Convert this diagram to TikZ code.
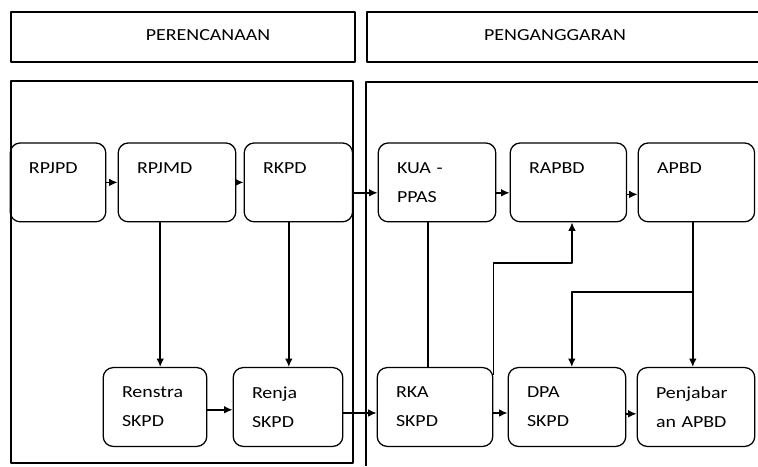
\documentclass[tikz,border=0pt]{standalone}
\usepackage{fontspec}
\setmainfont[FakeStretch=1.18]{Carlito}
\usetikzlibrary{arrows.meta}
\begin{document}
\begin{tikzpicture}[x=1cm,y=1cm,line join=round,
  panel/.style={draw=black,line width=1.7pt},
  kotak/.style={draw=black,line width=.9pt,rounded corners=.25cm,minimum height=1.97cm,
    inner xsep=.47cm,align=left,font=\fontsize{12}{20.5}\selectfont},
  judul/.style={font=\fontsize{12}{14}\selectfont},
  garis/.style={draw=black,line width=1pt},
  panah/.style={garis,-{Latex[length=2.1mm,width=1.9mm]}}]
\useasboundingbox (0,0) rectangle (18.95,11.65);
% Judul dan bingkai kedua kolom.
\draw[panel] (.275,10.1) rectangle (8.875,11.35);
\draw[panel] (18.95,11.35)--(9.175,11.35)--(9.175,10.1)--(18.95,10.1);
\draw[panel] (.275,.075) rectangle (8.825,9.625);
\draw[panel] (18.95,9.6)--(9.15,9.6)--(9.15,0);
\node[judul] (perencanaan) at (5.2,10.775){PERENCANAAN};
\node[judul] (penganggaran) at (13.875,10.775){PENGANGGARAN};
% Dokumen baris atas dan baris bawah.
\foreach \nama/\x/\lebar/\teks in {rpjpd/1.45/1.45/{RPJPD\\\mbox{}},rpjmd/4.425/2/{RPJMD\\\mbox{}},
  rkpd/7.46/1.77/{RKPD\\\mbox{}},kua/10.925/2/{KUA -\\PPAS},rapbd/14.21/1.97/{RAPBD\\\mbox{}},
  apbd/17.41/1.97/{APBD\\\mbox{}}}
 \node[kotak,text width=\lebar cm] (\nama) at (\x,7.09){\teks};
\foreach \nama/\x/\lebar/\teks in {renstra/3.875/1.65/{Renstra\\SKPD},renja/7.2/1.8/{Renja\\SKPD},
  rka/10.875/1.95/{RKA\\SKPD},dpa/14.175/2/{DPA\\SKPD},penjabar/17.4/2/{Penjabar\\an APBD}}
 \node[kotak,text width=\lebar cm] (\nama) at (\x,1.475){\teks};
% Alur antar dokumen.
\draw[panah] (rpjpd)--(rpjmd);
\draw[panah] (rpjmd)--(rkpd);
\draw[panah] ([yshift=-.26cm]rkpd.east)--([yshift=-.26cm]kua.west);
\draw[panah] ([yshift=-.26cm]kua.east)--([yshift=-.26cm]rapbd.west);
\draw[panah] ([yshift=-.3cm]rapbd.east)--([yshift=-.3cm]apbd.west);
\draw[panah] ([xshift=-.42cm]rpjmd.south)--([xshift=-.42cm]rpjmd.south |- renstra.north);
\draw[panah] ([xshift=-.24cm]rkpd.south)--([xshift=-.24cm]rkpd.south |- renja.north);
\draw[panah] ([yshift=-.07cm]renstra.east)--([yshift=-.07cm]renja.west);
\draw[panah] ([yshift=-.15cm]renja.east)--([yshift=-.15cm]rka.west);
\draw[panah] ([yshift=-.15cm]rka.east)--([yshift=-.15cm]dpa.west);
\draw[panah] ([yshift=-.17cm]dpa.east)--([yshift=-.17cm]penjabar.west);
\draw[garis] ([xshift=-.22cm]kua.south)--([xshift=-.22cm]kua.south |- rka.north);
\coordinate (belok) at (0,5.075);
\draw[panah] ([yshift=-.2cm]rka.north east) |- ([xshift=.09cm]rapbd.south |- belok)--([xshift=.09cm]rapbd.south);
\draw[panah] ([xshift=-.09cm]apbd.south)--([xshift=-.09cm]apbd.south |- penjabar.north);
\coordinate (tinggi) at (0,4.35);
\coordinate (cabang) at ([xshift=-.09cm]apbd.south |- tinggi);
\draw[panah] (cabang) -| ([xshift=.12cm]dpa.north);
\end{tikzpicture}
\end{document}
